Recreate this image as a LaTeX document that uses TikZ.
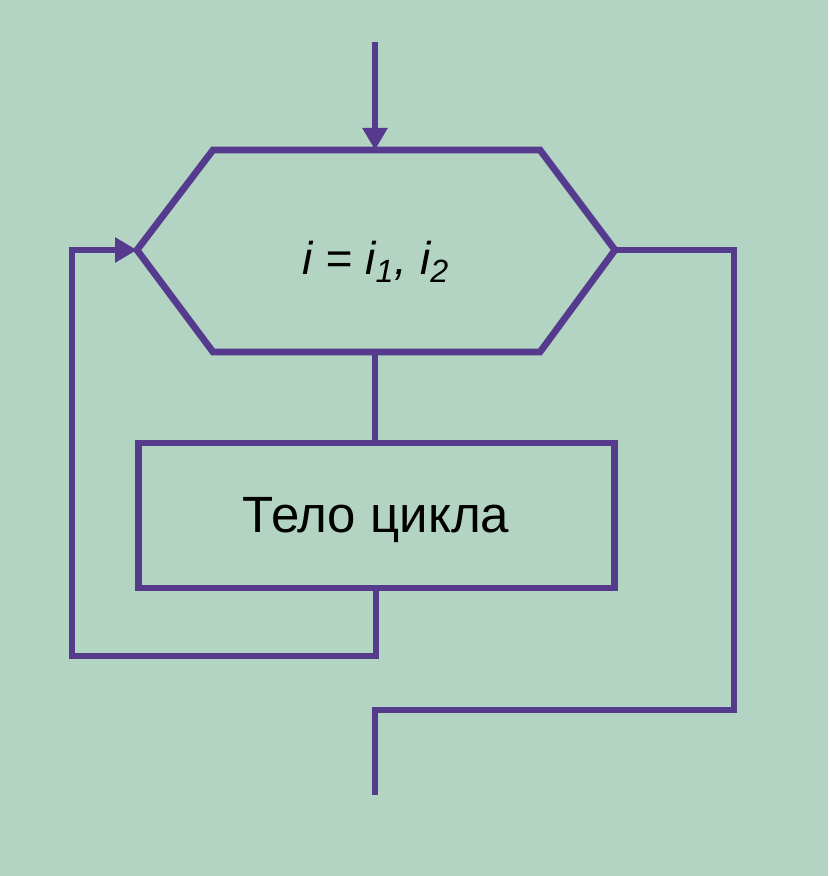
\documentclass[tikz,border=0pt]{standalone}
\usepackage{fontspec}
\setmainfont{Liberation Sans}
\usetikzlibrary{arrows.meta}
\definecolor{bg}{HTML}{B3D4C2}
\definecolor{pline}{HTML}{553A8E}
\begin{document}
\begin{tikzpicture}[x=0.5pt,y=-0.5pt,
  ln/.style={draw=pline,line width=3.4pt},
  arr/.style={ln,-{Triangle[length=11pt,width=12pt]}},
  lbl/.style={font=\fontsize{25.5}{30}\selectfont,text=black}]
\fill[bg] (0,0) rectangle (828,876);
\useasboundingbox (0,0) rectangle (828,876);
% hexagon
\coordinate (hT) at (375,150);
\coordinate (hL) at (137,250);
\coordinate (hR) at (615,250);
\coordinate (hB) at (375,352);
\draw[ln,line join=miter] (213,150) -- (540,150) -- (hR) -- (540,352) -- (213,352) -- (hL) -- cycle;
\node[font=\fontsize{23}{28}\selectfont,text=black] (cond) at (376,262) {\itshape i = i\textsubscript{1}, i\textsubscript{2}};
% body
\node[draw=pline,line width=3.4pt,minimum width=238pt,minimum height=72.5pt,inner sep=0pt] (body) at (376.5,515.5) {};
\node[lbl] (bodytext) at (376,520) {Тело цикла};
\coordinate (top) at (375,42);
\coordinate (b1) at (376,656);
\coordinate (b2) at (72,656);
\coordinate (b3) at (72,250);
\coordinate (r1) at (734,250);
\coordinate (r2) at (734,710);
\coordinate (r3) at (375,710);
\coordinate (endp) at (375,795);
\draw[arr] (top) -- (hT);
\draw[ln] (hB) -- (body.north -| hB);
\draw[arr,line join=miter] (body.south -| b1) -- (b1) -- (b2) -- (b3) -- (hL);
\draw[ln,line join=miter] (hR) -- (r1) -- (r2) -- (r3) -- (endp);
\end{tikzpicture}
\end{document}
